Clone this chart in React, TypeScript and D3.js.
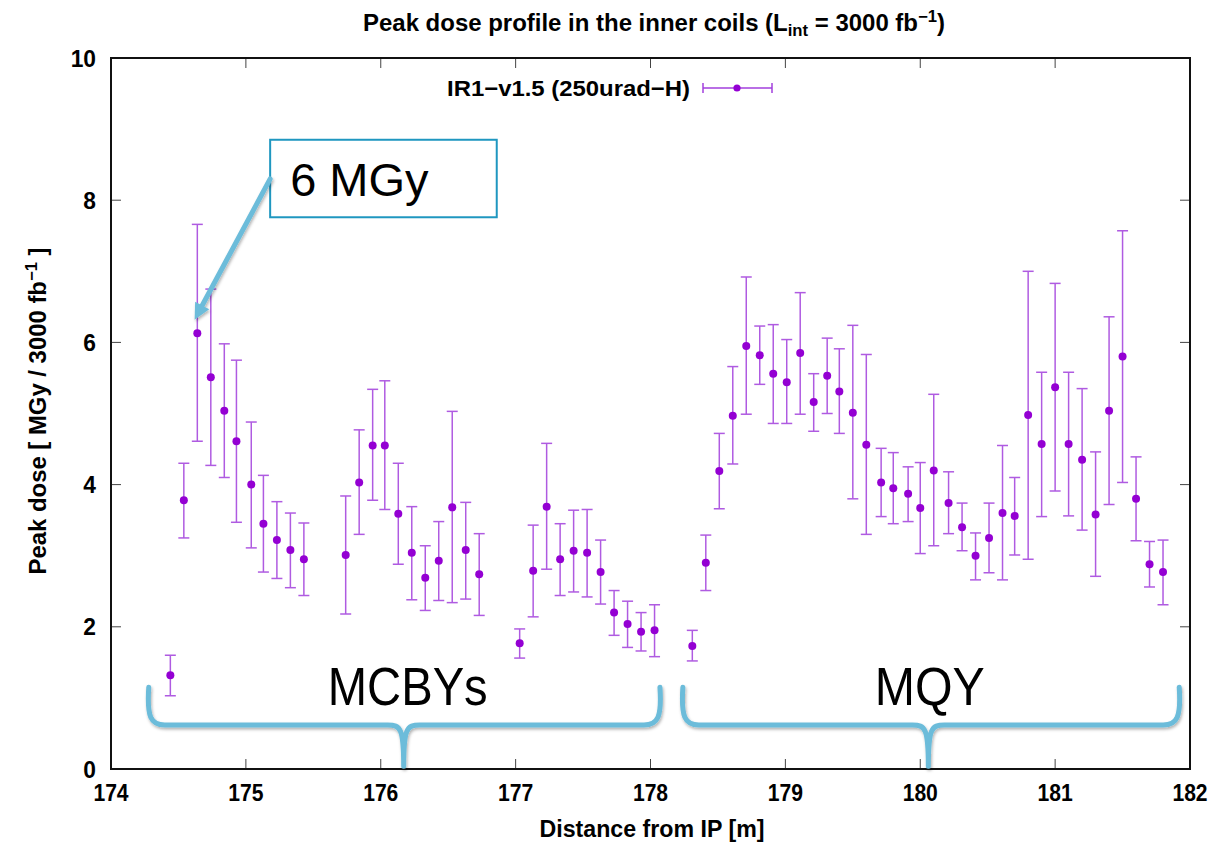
import React from "react";
import * as d3 from "d3";

const xTicks = [174, 175, 176, 177, 178, 179, 180, 181, 182];
const yTicks = [0, 2, 4, 6, 8, 10];

// MCBY region
const mcbyX = [174.44, 174.54, 174.64, 174.74, 174.84, 174.93, 175.04, 175.13, 175.23, 175.33, 175.43,
  175.74, 175.84, 175.94, 176.03, 176.13, 176.23, 176.33, 176.43, 176.53, 176.63, 176.73,
  177.03, 177.13, 177.23, 177.33, 177.43, 177.53, 177.63, 177.73, 177.83, 177.93, 178.03];
const mcbyVal = [1.32, 3.78, 6.13, 5.51, 5.04, 4.61, 4.00, 3.45, 3.22, 3.08, 2.95,
  3.01, 4.03, 4.55, 4.55, 3.59, 3.04, 2.69, 2.93, 3.68, 3.08, 2.74,
  1.77, 2.79, 3.69, 2.95, 3.07, 3.04, 2.77, 2.20, 2.04, 1.93, 1.95];
const mcbyLo = [1.03, 3.25, 4.61, 4.27, 4.10, 3.47, 3.11, 2.77, 2.68, 2.55, 2.44,
  2.18, 3.30, 3.78, 3.65, 2.88, 2.38, 2.23, 2.37, 2.34, 2.39, 2.16,
  1.56, 2.14, 2.81, 2.44, 2.49, 2.42, 2.32, 1.88, 1.71, 1.66, 1.58];
const mcbyHi = [1.60, 4.30, 7.66, 6.75, 5.98, 5.75, 4.88, 4.13, 3.76, 3.60, 3.46,
  3.84, 4.77, 5.34, 5.46, 4.30, 3.69, 3.14, 3.48, 5.03, 3.75, 3.31,
  1.97, 3.43, 4.58, 3.45, 3.64, 3.65, 3.22, 2.51, 2.36, 2.20, 2.31];

// MQY region
const mqyX = [178.31, 178.41, 178.51, 178.61, 178.71, 178.81, 178.91, 179.01, 179.11, 179.21,
  179.31, 179.40, 179.50, 179.60, 179.71, 179.80, 179.91, 180.00, 180.10, 180.21,
  180.31, 180.41, 180.51, 180.61, 180.70, 180.80, 180.90, 181.00, 181.10, 181.20,
  181.30, 181.40, 181.50, 181.60, 181.70, 181.80];
const mqyVal = [1.73, 2.90, 4.19, 4.97, 5.95, 5.82, 5.56, 5.44, 5.85, 5.16,
  5.53, 5.31, 5.01, 4.56, 4.03, 3.95, 3.87, 3.67, 4.20, 3.74,
  3.40, 3.00, 3.25, 3.60, 3.56, 4.98, 4.57, 5.37, 4.57, 4.35,
  3.58, 5.04, 5.80, 3.80, 2.88, 2.77];
const mqyLo = [1.52, 2.51, 3.66, 4.29, 4.99, 5.41, 4.86, 4.86, 4.99, 4.75,
  5.00, 4.72, 3.80, 3.30, 3.55, 3.45, 3.48, 3.03, 3.14, 3.31,
  3.07, 2.66, 2.76, 2.66, 3.01, 2.95, 3.55, 3.91, 3.56, 3.36,
  2.71, 3.72, 4.03, 3.21, 2.56, 2.31];
const mqyHi = [1.95, 3.29, 4.72, 5.66, 6.92, 6.23, 6.25, 6.04, 6.70, 5.56,
  6.06, 5.91, 6.24, 5.83, 4.51, 4.45, 4.25, 4.31, 5.27, 4.18,
  3.74, 3.32, 3.74, 4.55, 4.10, 7.00, 5.58, 6.83, 5.58, 5.35,
  4.46, 6.36, 7.57, 4.39, 3.20, 3.22];

// Annotations (data units)
const braceGroups = [
  { label: "MCBYs", x1: 174.28, x2: 178.07, xm: 176.17, xt: 176.20, tl: 160 },
  { label: "MQY", x1: 178.24, x2: 181.92, xm: 180.06, xt: 180.07, tl: 110 },
];
const braceY = { top: 1.15, mid: 0.62, tip: 0.04, text: 0.9 };
const callout = { x1: 175.18, x2: 176.86, y1: 8.85, y2: 7.76, text: "6 MGy" };
const arrow = { x0: 175.18, y0: 8.3, x1: 174.62, y1: 6.32 };

const W = 1218, H = 842;
const x = d3.scaleLinear().domain([174, 182]).range([111, 1190]);
const y = d3.scaleLinear().domain([0, 10]).range([769, 58]);

const ERR = "#a23fdc";
const DOT = "#9400d3";
const BLUE = "#6cbcda";
const FONT = "'Liberation Sans', Arial, Helvetica, sans-serif";

function braceD(g: any) {
  const x1 = x(g.x1), x2 = x(g.x2), xm = x(g.xm);
  const yt = y(braceY.top), ym = y(braceY.mid), yp = y(braceY.tip);
  return [
    `M${x1},${yt}`,
    `C${x1 - 2},${ym - 8} ${x1 + 2},${ym} ${x1 + 16},${ym}`,
    `L${xm - 16},${ym}`,
    `C${xm - 3},${ym} ${xm},${ym + 4} ${xm},${yp}`,
    `C${xm},${ym + 4} ${xm + 3},${ym} ${xm + 16},${ym}`,
    `L${x2 - 16},${ym}`,
    `C${x2 - 2},${ym} ${x2 + 2},${ym - 8} ${x2},${yt}`,
  ].join(" ");
}

export default function App() {
  const pts: { x: number; v: number; lo: number; hi: number }[] = [];
  mcbyX.forEach((xv, i) => pts.push({ x: xv, v: mcbyVal[i], lo: mcbyLo[i], hi: mcbyHi[i] }));
  mqyX.forEach((xv, i) => pts.push({ x: xv, v: mqyVal[i], lo: mqyLo[i], hi: mqyHi[i] }));

  const L = x.range()[0], R = x.range()[1], T = y.range()[1], B = y.range()[0];
  const ax = x(arrow.x0), ay = y(arrow.y0), bx = x(arrow.x1), by = y(arrow.y1);
  const ang = Math.atan2(by - ay, bx - ax);
  const hl = 16, hw = 8;
  const baseX = bx - hl * Math.cos(ang), baseY = by - hl * Math.sin(ang);
  const head = `M${bx},${by} L${baseX + hw * Math.sin(ang)},${baseY - hw * Math.cos(ang)} L${baseX - hw * Math.sin(ang)},${baseY + hw * Math.cos(ang)} Z`;

  return (
    <svg width={W} height={H} style={{ position: "absolute", left: 0, top: 0, background: "#fff" }} fontFamily={FONT}>
      <defs>
        <filter id="sh" x="-10%" y="-10%" width="120%" height="140%">
          <feDropShadow dx="1" dy="2" stdDeviation="1.5" floodColor="#000" floodOpacity="0.3" />
        </filter>
      </defs>
      <rect x={0} y={0} width={W} height={H} fill="#fff" />
      {/* title */}
      <text x={654} y={31} textAnchor="middle" fontWeight="bold" fontSize={23} textLength={582} lengthAdjust="spacingAndGlyphs">
        Peak dose profile in the inner coils (L<tspan fontSize={16} dy={5}>int</tspan>
        <tspan dy={-5}> = 3000 fb</tspan><tspan fontSize={16} dy={-9}>−1</tspan><tspan dy={9}>)</tspan>
      </text>
      {/* ticks */}
      {xTicks.map((t) => (
        <g key={"xt" + t}>
          <line x1={x(t)} x2={x(t)} y1={B} y2={B - 10} stroke="#444" strokeWidth={1} />
          <line x1={x(t)} x2={x(t)} y1={T} y2={T + 10} stroke="#444" strokeWidth={1} />
          <text transform={`translate(${x(t)},${B + 32}) scale(0.88,1)`} textAnchor="middle" fontWeight="bold" fontSize={24}>{t}</text>
        </g>
      ))}
      {yTicks.map((t) => (
        <g key={"yt" + t}>
          <line x1={L} x2={L + 10} y1={y(t)} y2={y(t)} stroke="#444" strokeWidth={1} />
          <line x1={R} x2={R - 10} y1={y(t)} y2={y(t)} stroke="#444" strokeWidth={1} />
          <text transform={`translate(96,${y(t) + 8.5}) scale(0.95,1)`} textAnchor="end" fontWeight="bold" fontSize={24}>{t}</text>
        </g>
      ))}
      {/* frame */}
      <rect x={L} y={T} width={R - L} height={B - T} fill="none" stroke="#111" strokeWidth={2} />
      {/* axis labels */}
      <text x={652} y={837} textAnchor="middle" fontWeight="bold" fontSize={23} textLength={225} lengthAdjust="spacingAndGlyphs">Distance from IP [m]</text>
      <text transform={`translate(46,411) rotate(-90)`} textAnchor="middle" fontWeight="bold" fontSize={23} textLength={327} lengthAdjust="spacingAndGlyphs">
        Peak dose [ MGy / 3000 fb<tspan fontSize={16} dy={-9}>−1</tspan><tspan dy={9}> ]</tspan>
      </text>
      {/* legend */}
      <text x={690} y={96} textAnchor="end" fontWeight="bold" fontSize={22} textLength={243} lengthAdjust="spacingAndGlyphs">IR1−v1.5 (250urad−H)</text>
      <g stroke={ERR} strokeWidth={1.5}>
        <line x1={703} x2={772} y1={88} y2={88} />
        <line x1={703} x2={703} y1={83} y2={93} />
        <line x1={772} x2={772} y1={83} y2={93} />
      </g>
      <circle cx={737} cy={88} r={3.6} fill={DOT} />
      {/* data */}
      {pts.map((p, i) => (
        <g key={"p" + i}>
          <g stroke={ERR} strokeWidth={1.5} opacity={0.85}>
            <line x1={x(p.x)} x2={x(p.x)} y1={y(p.lo)} y2={y(p.hi)} />
            <line x1={x(p.x) - 5.5} x2={x(p.x) + 5.5} y1={y(p.lo)} y2={y(p.lo)} />
            <line x1={x(p.x) - 5.5} x2={x(p.x) + 5.5} y1={y(p.hi)} y2={y(p.hi)} />
          </g>
          <circle cx={x(p.x)} cy={y(p.v)} r={4} fill={DOT} />
        </g>
      ))}
      {/* braces */}
      {braceGroups.map((g) => (
        <g key={g.label}>
          <path d={braceD(g)} fill="none" stroke={BLUE} strokeWidth={5} strokeLinecap="round" strokeLinejoin="round" filter="url(#sh)" />
          <text x={x(g.xt)} y={y(braceY.text)} textAnchor="middle" fontSize={54} textLength={g.tl} lengthAdjust="spacingAndGlyphs" fill="#000">{g.label}</text>
        </g>
      ))}
      {/* callout */}
      <rect x={x(callout.x1)} y={y(callout.y1)} width={x(callout.x2) - x(callout.x1)} height={y(callout.y2) - y(callout.y1)} fill="#fff" stroke="#1f97c0" strokeWidth={2} />
      <text x={x(callout.x1) + 20} y={y(callout.y2) - 21} fontSize={47} fill="#000">{callout.text}</text>
      <g filter="url(#sh)">
        <line x1={ax} y1={ay} x2={baseX} y2={baseY} stroke={BLUE} strokeWidth={5} strokeLinecap="round" />
        <path d={head} fill={BLUE} />
      </g>
    </svg>
  );
}
